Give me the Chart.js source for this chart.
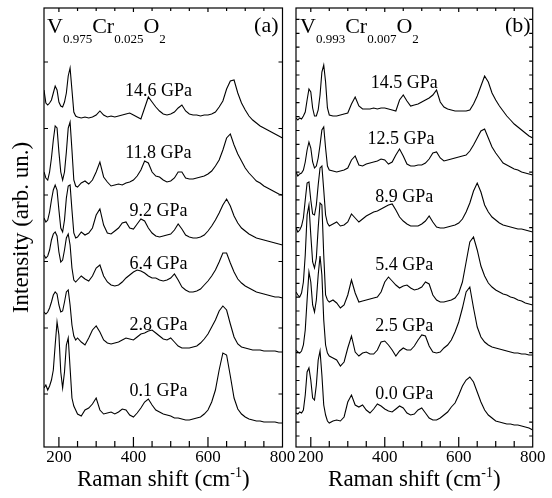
<!DOCTYPE html>
<html>
<head>
<meta charset="utf-8">
<script src="https://cdn.jsdelivr.net/npm/chart.js"></script>
<style>
  html, body { margin: 0; padding: 0; background: #fff; }
  #wrap { position: relative; width: 552px; height: 498px; }
  canvas { position: absolute; left: 0; top: 0; }
</style>
</head>
<body>
<div id="wrap">
  <canvas id="cA" width="552" height="498"></canvas>
  <canvas id="cB" width="552" height="498"></canvas>
</div>
<script>
// ---------- data (Raman shift grid in cm^-1, intensities in arb. units, offsets included) ----------
const waveGrid = [160,165,170,175,180,185,190,195,200,205,210,215,220,225,230,235,240,245,250,
  260,270,280,290,300,310,320,330,340,350,360,370,380,390,400,410,420,430,440,450,460,470,480,490,500,
  510,520,530,540,550,560,570,580,590,600,610,620,630,640,650,660,670,680,690,700,710,720,730,740,750,
  760,770,780,790,800];

// Panel (a): V0.975Cr0.025O2
const pressuresA = ['14.6 GPa','11.8 GPa','9.2 GPa','6.4 GPa','2.8 GPa','0.1 GPa'];
const a146 = [357,344,342,344,347,354,361,357,345,341,340,345,354,371,379,357,335,331,330,329,330,329,330,332,336,332,330,331,330,331,332,333,334,332,330,328,339,350,345,340,336,333,332,333,335,339,342,336,333,332,332,331,332,332,333,335,340,346,358,366,367,354,344,337,331,327,324,321,319,317,315,313,311,309];
const a118 = [275,269,267,275,289,307,321,319,295,275,267,275,295,319,325,297,267,261,260,264,266,263,267,275,285,270,265,261,262,263,262,264,265,267,271,277,286,284,275,271,270,267,265,266,269,275,275,269,268,268,269,270,271,273,276,281,287,297,309,313,302,293,286,279,274,270,266,264,261,259,257,255,253,252];
const a92 = [229,225,227,235,247,257,262,257,237,219,215,227,249,261,262,237,214,209,210,215,212,214,219,232,238,222,214,213,216,219,224,225,219,218,223,228,226,219,214,211,210,211,212,213,217,223,218,212,210,209,209,210,212,216,221,227,234,242,248,241,231,224,219,216,213,211,209,208,207,206,205,204,203,202];
const a64 = [192,189,191,197,207,213,215,211,195,185,187,197,209,213,202,179,167,165,167,171,168,166,171,179,182,171,165,162,161,162,165,169,172,175,177,176,174,171,169,169,167,166,167,169,173,167,160,157,155,155,156,158,162,166,171,177,185,194,194,184,175,168,164,161,159,157,155,154,153,152,151,150,150,149];
const a28 = [135,133,135,139,145,152,155,153,142,135,136,145,155,157,142,122,111,107,109,105,102,109,117,121,115,107,104,103,104,105,107,109,108,107,110,113,114,116,117,114,111,108,107,109,105,101,99,99,99,100,101,104,108,113,120,127,136,141,137,123,110,103,100,99,98,97,97,97,96,96,96,96,95,95];
const a01 = [59,62,57,61,67,77,102,125,112,75,59,75,102,109,79,49,41,37,33,31,37,39,43,49,37,33,34,35,33,35,38,37,32,30,34,39,45,48,42,37,35,33,32,31,29,29,28,27,27,28,29,30,33,37,45,57,77,94,92,71,49,38,33,30,28,27,26,26,25,25,25,25,24,24];

// Panel (b): V0.993Cr0.007O2
const pressuresB = ['14.5 GPa','12.5 GPa','8.9 GPa','5.4 GPa','2.5 GPa','0.0 GPa'];
const b145 = [329,327,329,328,331,335,347,358,355,339,331,331,337,352,375,382,365,339,332,331,331,332,333,334,343,350,341,338,338,338,339,338,339,339,338,337,336,347,352,346,341,342,343,345,347,349,352,357,345,340,338,337,336,336,336,336,337,343,351,361,371,365,354,347,341,336,331,327,323,320,317,314,311,309];
const b125 = [275,271,273,274,277,285,297,305,299,285,279,281,289,302,317,320,299,281,277,276,275,276,277,279,287,291,282,281,283,284,285,286,288,287,283,285,292,298,291,283,281,281,282,282,284,288,294,295,289,286,287,288,289,290,291,292,296,302,309,316,318,309,300,294,289,284,282,280,278,277,275,274,273,272];
const b89 = [219,215,217,221,229,247,264,265,247,233,232,242,262,279,281,257,232,224,221,223,225,221,222,225,233,229,225,228,231,233,235,236,238,240,242,243,237,230,226,223,221,221,221,223,226,231,225,220,219,219,220,221,222,224,228,235,244,256,264,255,242,235,230,227,224,222,221,220,219,218,218,217,216,215];
const b54 = [155,152,150,154,165,192,232,242,212,185,179,189,219,244,242,192,152,147,145,147,144,139,142,152,167,154,145,146,147,148,149,150,155,165,170,166,162,159,161,162,159,157,158,160,165,163,152,147,145,145,146,147,149,154,165,185,205,210,197,181,171,164,160,157,155,153,152,150,149,147,146,144,143,142];
const b25 = [97,95,94,96,102,117,147,175,165,142,135,147,172,191,172,127,102,94,91,89,87,81,85,99,111,95,91,94,95,93,93,97,105,106,102,97,91,96,99,97,97,101,107,112,111,101,95,94,95,99,102,107,115,125,139,155,160,139,120,110,105,102,100,99,98,97,96,95,94,94,93,93,92,92];
const b00 = [34,33,35,34,37,52,75,79,67,49,47,62,87,96,72,42,32,26,24,26,27,26,30,45,52,42,40,42,37,34,38,43,41,38,36,35,38,41,39,34,32,33,37,39,34,29,27,27,29,32,35,40,44,52,61,67,70,65,55,45,37,32,29,26,25,24,23,23,22,22,21,20,19,17];

// axes
const xTickLabels = [200, 400, 600, 800];
const xTickMarks = [200,250,300,350,400,450,500,550,600,650,700,750];
const yTicksA = [53, 119, 185.5, 252, 318.5, 385];
const yTicksB = [11,24.9,38.8,52.7,66.5,80.4,94.3,108.2,122.1,136,149.9,163.7,177.6,191.5,205.4,219.3,233.2,247.1,
  260.9,274.8,288.7,302.6,316.5,330.4,344.3,358.2,372,385.9,399.8,413.7,427.6];

// ---------- drawing ----------
const FONT = '"Liberation Serif", "Times New Roman", serif';
Chart.defaults.font.family = FONT;
Chart.defaults.color = '#000';

function drawRich(ctx, segs, x, y, align) {
  let w = 0;
  segs.forEach(s => { ctx.font = s.size + 'px ' + FONT; s.w = ctx.measureText(s.t).width; w += s.w; });
  let cx = align === 'center' ? x - w / 2 : align === 'right' ? x - w : x;
  segs.forEach(s => { ctx.font = s.size + 'px ' + FONT; ctx.fillText(s.t, cx, y + (s.dy || 0)); cx += s.w; });
}

const decorPlugin = {
  id: 'decor',
  afterDraw(chart, args, o) {
    const { ctx, chartArea: ca, scales: { x, y } } = chart;
    ctx.save();
    ctx.strokeStyle = '#000';
    ctx.lineWidth = 1.2;
    ctx.strokeRect(ca.left, ca.top, ca.right - ca.left, ca.bottom - ca.top);
    ctx.beginPath();
    xTickMarks.forEach(v => {
      const px = x.getPixelForValue(v);
      const major = v % 200 === 0;
      ctx.moveTo(px, ca.bottom); ctx.lineTo(px, ca.bottom - (major ? 10 : 6));
      ctx.moveTo(px, ca.top); ctx.lineTo(px, ca.top + (major ? 4 : 3));
    });
    o.yTicks.forEach(v => {
      const py = y.getPixelForValue(v);
      ctx.moveTo(ca.left, py); ctx.lineTo(ca.left + o.yLen, py);
      ctx.moveTo(ca.right, py); ctx.lineTo(ca.right - o.yLen, py);
    });
    ctx.stroke();

    ctx.fillStyle = '#000';
    ctx.textAlign = 'left';
    ctx.textBaseline = 'alphabetic';
    // pressure labels, placed in data coordinates
    o.labels.forEach((t, i) => {
      drawRich(ctx, [{ t, size: 18 }], x.getPixelForValue(o.labelX[i]), y.getPixelForValue(o.labelY[i]), 'center');
    });
    // compound name
    drawRich(ctx, o.name, ca.left + o.nameDx, ca.top + 25, 'left');
    // panel tag
    drawRich(ctx, [{ t: o.tag, size: 22 }], ca.right - o.tagDx, ca.top + 24, 'right');
    // x axis title with superscript
    drawRich(ctx, [
      { t: 'Raman shift (cm', size: 23 },
      { t: '-1', size: 14, dy: -9 },
      { t: ')', size: 23 }
    ], (ca.left + ca.right) / 2, 486, 'center');
    ctx.restore();
  }
};

function sub(t) { return { t, size: 13, dy: 10 }; }
function main(t) { return { t, size: 22 }; }

function makePanel(id, series, labels, deco, padding, yTitle) {
  return new Chart(document.getElementById(id), {
    type: 'line',
    data: {
      datasets: series.map(s => ({
        data: waveGrid.map((w, i) => ({ x: w, y: s[i] })),
        borderColor: '#000', borderWidth: 1.1, pointRadius: 0, fill: false, tension: 0
      }))
    },
    options: {
      responsive: false, animation: false, devicePixelRatio: 1,
      layout: { padding },
      plugins: { legend: { display: false }, tooltip: { enabled: false }, decor: deco },
      scales: {
        x: {
          type: 'linear', min: 160, max: 800,
          afterBuildTicks: s => { s.ticks = xTickLabels.map(v => ({ value: v })); },
          ticks: { font: { size: 17 }, color: '#000', padding: 0, maxRotation: 0, autoSkip: false },
          grid: { display: false, drawTicks: false },
          border: { display: false }
        },
        y: yTitle ? {
          type: 'linear', min: 0, max: 439,
          ticks: { display: false },
          grid: { display: false, drawTicks: false },
          border: { display: false },
          title: { display: true, text: yTitle, color: '#000', font: { size: 23, lineHeight: 1 }, padding: { top: 0, bottom: 10.8 } }
        } : { type: 'linear', min: 0, max: 439, display: false }
      }
    },
    plugins: [decorPlugin]
  });
}

makePanel('cA', [a146, a118, a92, a64, a28, a01], pressuresA, {
  yTicks: yTicksA, yLen: 4,
  labels: pressuresA, labelX: [467, 467, 467, 467, 467, 467], labelY: [351, 289, 231, 178, 117, 51],
  name: [main('V'), sub('0.975'), main('Cr'), sub('0.025'), main('O'), sub('2')], nameDx: 3,
  tag: '(a)', tagDx: 4
}, { left: 10.2, right: 269.5, top: 8, bottom: 30.6 }, 'Intensity (arb. un.)');

makePanel('cB', [b145, b125, b89, b54, b25, b00], pressuresB, {
  yTicks: yTicksB, yLen: 3.5,
  labels: pressuresB, labelX: [453, 444, 453, 453, 453, 453], labelY: [359, 303, 245, 177, 116, 48],
  name: [main('V'), sub('0.993'), main('Cr'), sub('0.007'), main('O'), sub('2')], nameDx: 4,
  tag: '(b)', tagDx: 2
}, { left: 296, right: 19.3, top: 8, bottom: 30.6 }, null);
</script>
</body>
</html>
